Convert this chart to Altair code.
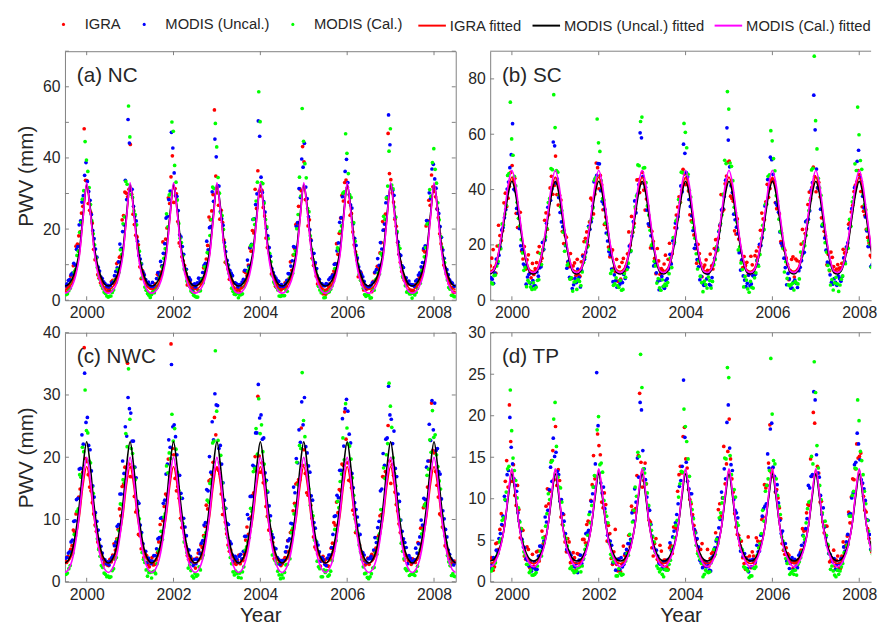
import altair as alt
import pandas as pd

FONT = "Liberation Sans"
TEXT = "#262626"
BOX = "#808080"

POINT_SERIES = ["IGRA", "MODIS (Uncal.)", "MODIS (Cal.)"]
POINT_COLORS = ["#ff0000", "#0000ff", "#00ff00"]
FIT_SERIES = ["IGRA fitted", "MODIS (Uncal.) fitted", "MODIS (Cal.) fitted"]
FIT_COLORS = ["#ff0000", "#000000", "#ff00ff"]

X_TICKS = [2000, 2002, 2004, 2006, 2008]
FIT_YEARS = list(range(2000, 2010))

# ---------------- (a) NC ----------------
nc_igra = [
    [2.4, 3.1, 6.8, 9.7, 15.2, 18.1, 24.5, 48.2, 33.6, 25.3, 21.7, 11.4, 7.2, 4.9, 3.6, 2.2],
    [3.8, 5.2, 4.7, 10.3, 12.1, 22.6, 30.4, 29.1, 43.8, 24.2, 18.3, 15.6, 6.1, 7.4, 2.8, 1.9],
    [2.1, 4.6, 7.3, 7.9, 16.4, 17.2, 28.8, 34.7, 27.5, 29.9, 16.1, 12.2, 9.8, 4.3, 5.1, 3.7],
    [4.2, 2.8, 5.5, 9.1, 11.6, 23.4, 25.1, 53.5, 30.2, 22.8, 21.9, 10.7, 8.8, 6.7, 3.2, 2.6],
    [2.9, 3.5, 8.1, 6.9, 14.7, 19.6, 31.2, 36.4, 29.3, 26.1, 17.5, 14.9, 7.4, 5.2, 4.8, 3.4],
    [3.3, 4.9, 5.1, 10.8, 12.7, 21.3, 26.4, 30.8, 38.9, 28.4, 22.6, 11.8, 10.1, 4.6, 3.9, 1.8],
    [1.7, 3.9, 6.4, 8.2, 15.9, 18.8, 29.5, 33.1, 31.7, 23.9, 19.2, 13.6, 6.6, 7.8, 2.9, 3.1],
    [3.6, 2.4, 7.7, 9.5, 13.3, 22.1, 24.2, 46.9, 33.9, 27.6, 20.8, 12.9, 8.1, 5.6, 4.4, 2.7],
    [2.5, 4.3, 5.8, 7.6, 14.1, 20.9, 28.1, 35.2, 30.6, 25.7, 18.7, 14.3, 9.2, 6.3, 3.5, 2.3],
]
nc_igra_b = [
    [3.9, 4.2, 7.4, 8.1, 15.8, 19.2, 26.4, 33.7, 27.2, 24.6, 14.3, 11.9, 6.2, 4.1, 2.9, 2.4],
    [2.7, 5.6, 5.9, 10.7, 12.4, 23.8, 30.1, 31.2, 29.8, 21.3, 17.8, 9.4, 8.3, 5.7, 4.1, 3.5],
    [3.1, 3.8, 6.9, 9.6, 13.1, 20.3, 27.2, 40.6, 31.4, 22.1, 15.2, 11.1, 7.6, 4.8, 3.3, 2.1],
    [4.4, 4.7, 5.3, 7.9, 15.4, 22.6, 29.7, 34.9, 26.7, 25.3, 16.9, 10.2, 5.9, 5.4, 2.6, 3.8],
    [2.3, 5.1, 7.8, 9.9, 13.8, 18.9, 25.8, 30.6, 30.9, 23.7, 14.8, 12.3, 7.7, 3.9, 4.3, 2.9],
    [3.6, 3.9, 6.1, 8.4, 14.6, 21.7, 31.3, 43.2, 28.3, 20.9, 17.1, 9.8, 6.8, 5.1, 3.1, 2.5],
    [2.9, 4.6, 7.2, 10.3, 12.9, 23.1, 27.9, 33.8, 27.6, 24.4, 15.6, 11.4, 8.1, 4.4, 3.7, 3.3],
    [4.1, 5.3, 5.6, 8.8, 16.2, 19.8, 28.6, 35.6, 30.2, 22.8, 16.3, 10.7, 6.4, 5.6, 2.8, 2.7],
    [2.6, 4.4, 6.7, 9.2, 13.6, 22.4, 26.7, 31.9, 29.1, 23.2, 15.9, 9.9, 7.3, 4.7, 3.4, 2.2],
]
nc_uncal = [
    [4.1, 5.6, 7.2, 10.4, 14.3, 21.2, 27.6, 35.1, 33.4, 28.1, 19.6, 14.4, 9.3, 6.5, 5.2, 3.7],
    [3.2, 4.8, 6.9, 9.1, 15.8, 19.3, 33.7, 50.8, 30.9, 26.4, 22.3, 12.6, 10.2, 7.1, 4.4, 4.3],
    [5.0, 3.9, 7.8, 10.9, 13.2, 23.1, 28.3, 47.2, 35.8, 29.2, 18.4, 15.1, 8.6, 5.9, 5.7, 3.1],
    [3.6, 6.2, 6.1, 9.8, 16.6, 20.4, 30.5, 45.3, 32.2, 24.9, 21.1, 13.7, 9.9, 7.6, 4.9, 4.6],
    [4.4, 5.1, 8.4, 11.3, 14.8, 22.7, 26.9, 50.4, 34.6, 27.7, 20.2, 14.8, 8.9, 6.8, 5.5, 3.9],
    [3.9, 4.6, 7.5, 9.6, 15.1, 20.8, 31.4, 39.7, 44.1, 28.6, 19.8, 13.1, 10.6, 6.2, 4.7, 4.1],
    [4.7, 5.8, 6.6, 10.1, 13.9, 21.9, 29.1, 36.2, 33.1, 26.8, 21.5, 15.4, 9.4, 7.3, 5.3, 3.4],
    [3.8, 4.9, 7.9, 11.7, 16.2, 19.7, 27.4, 52.1, 31.6, 29.5, 18.9, 12.9, 9.7, 6.1, 4.8, 4.5],
    [4.3, 5.4, 7.1, 9.4, 14.6, 22.4, 30.2, 36.9, 34.1, 25.6, 20.7, 14.1, 8.8, 7.2, 5.1, 3.8],
]
nc_uncal_b = [
    [4.6, 5.8, 7.6, 9.9, 15.1, 22.3, 29.4, 38.7, 30.6, 24.1, 17.3, 12.1, 8.2, 6.1, 4.7, 4.2],
    [4.1, 5.2, 8.1, 10.8, 14.6, 21.2, 28.3, 44.2, 31.2, 23.7, 16.6, 11.6, 7.9, 5.8, 5.1, 3.9],
    [3.7, 6.1, 7.2, 9.7, 15.9, 23.6, 30.7, 42.8, 29.4, 25.2, 17.8, 12.9, 8.7, 6.4, 4.4, 4.6],
    [4.9, 5.4, 7.8, 10.4, 14.2, 20.7, 27.8, 40.3, 32.1, 22.9, 16.2, 11.2, 8.4, 6.9, 4.9, 3.6],
    [4.3, 5.9, 8.3, 9.5, 15.7, 22.9, 29.9, 46.1, 30.3, 24.8, 18.1, 12.4, 7.8, 6.2, 5.3, 4.4],
    [3.8, 5.6, 7.4, 11.1, 14.9, 21.8, 28.9, 37.4, 31.8, 23.5, 16.8, 13.2, 8.9, 5.9, 4.6, 4.1],
    [4.5, 6.3, 7.1, 10.2, 16.1, 23.2, 30.2, 39.6, 29.7, 25.9, 17.4, 11.9, 8.1, 6.6, 4.2, 3.8],
    [4.2, 5.1, 8.6, 9.8, 14.4, 21.4, 29.1, 43.7, 30.9, 23.3, 16.4, 12.6, 9.2, 6.3, 5.4, 4.3],
    [3.9, 5.7, 7.7, 10.6, 15.3, 22.1, 28.6, 38.2, 31.5, 24.4, 17.7, 11.8, 8.6, 5.7, 4.8, 4.0],
]
nc_cal = [
    [1.6, 2.7, 4.8, 7.9, 12.6, 19.1, 28.4, 44.6, 36.2, 26.9, 18.7, 11.9, 7.1, 4.2, 2.3, 1.2],
    [1.1, 2.2, 5.6, 8.7, 14.2, 21.5, 33.4, 54.6, 29.7, 25.1, 21.2, 13.8, 6.4, 3.7, 1.9, 0.8],
    [2.4, 3.1, 4.3, 7.2, 11.8, 24.3, 29.6, 50.1, 37.9, 28.2, 17.4, 12.5, 8.4, 4.9, 2.6, 1.4],
    [0.9, 2.6, 5.9, 9.4, 13.4, 18.2, 31.8, 49.7, 34.5, 24.6, 19.9, 10.8, 7.6, 3.4, 1.7, 1.9],
    [1.5, 1.8, 4.6, 8.1, 15.3, 22.8, 27.9, 58.6, 33.1, 27.3, 20.6, 13.2, 6.9, 4.5, 2.9, 1.1],
    [1.3, 2.9, 5.2, 6.8, 12.9, 20.1, 34.6, 53.9, 38.4, 25.8, 18.1, 11.4, 8.2, 3.9, 2.1, 0.7],
    [2.1, 2.4, 4.1, 8.9, 14.7, 19.4, 30.1, 46.8, 35.6, 28.9, 21.8, 12.7, 7.3, 5.1, 1.6, 1.5],
    [0.6, 3.3, 5.7, 7.6, 13.1, 23.6, 28.8, 41.9, 32.4, 26.2, 19.3, 14.6, 6.7, 4.1, 2.5, 1.8],
    [1.9, 2.2, 4.9, 8.3, 12.2, 21.4, 31.1, 38.7, 36.8, 27.4, 17.9, 11.6, 7.8, 3.6, 1.4, 1.0],
]
nc_cal_b = [
    [1.8, 3.4, 5.8, 8.7, 13.8, 21.9, 30.8, 39.4, 31.7, 22.3, 15.6, 9.2, 5.8, 3.3, 1.9, 0.9],
    [1.2, 2.9, 5.1, 7.9, 12.9, 23.4, 32.6, 45.9, 28.9, 24.1, 14.7, 10.4, 6.3, 2.8, 1.4, 1.6],
    [2.1, 3.6, 6.2, 9.3, 14.5, 20.6, 29.9, 47.5, 33.2, 21.6, 16.2, 8.8, 5.4, 3.9, 2.2, 1.1],
    [0.9, 2.7, 4.9, 8.4, 13.2, 22.7, 31.4, 43.1, 30.1, 23.8, 15.1, 9.9, 6.6, 2.5, 1.6, 0.7],
    [1.6, 3.8, 5.5, 9.1, 15.6, 21.3, 33.2, 50.2, 32.8, 22.7, 17.3, 10.8, 5.1, 3.6, 1.2, 1.3],
    [1.3, 2.5, 6.4, 7.6, 13.9, 24.1, 29.3, 44.7, 34.4, 24.9, 14.3, 9.6, 6.9, 2.9, 2.4, 0.8],
    [2.2, 3.1, 5.3, 8.9, 14.1, 20.9, 30.5, 41.3, 29.6, 21.9, 16.6, 10.1, 5.6, 3.4, 1.1, 1.4],
    [0.7, 2.8, 6.1, 7.4, 12.6, 22.8, 32.1, 48.2, 31.3, 23.4, 15.4, 9.3, 6.2, 2.3, 1.8, 0.6],
    [1.5, 3.3, 4.8, 8.2, 14.8, 21.6, 29.2, 42.6, 32.9, 22.6, 14.9, 10.6, 5.7, 3.1, 1.3, 1.0],
]
nc_fit_igra = [3, 3.5, 5, 8, 13, 23, 32, 25, 15, 9, 5.5, 3.5]
nc_fit_uncal = [4, 4.5, 6, 9, 14, 24, 32.5, 26, 16, 10, 6.5, 4.5]
nc_fit_cal = [2, 2.5, 4, 7, 12.5, 23, 33, 25, 14.5, 8, 4.5, 2.5]
nc_yticks = [0, 10, 20, 30, 40, 50, 60, 70]

# ---------------- (b) SC ----------------
sc_igra = [
    [12.4, 18.3, 9.8, 27.1, 21.6, 35.2, 33.9, 41.2, 48.7, 44.1, 26.3, 31.8, 14.9, 11.2, 16.4, 8.1],
    [9.3, 13.6, 19.4, 15.2, 28.9, 25.7, 40.6, 38.3, 52.1, 34.4, 36.2, 20.5, 22.8, 12.1, 7.9, 13.5],
    [14.8, 8.7, 16.3, 22.4, 19.8, 36.9, 31.2, 49.6, 40.3, 41.7, 27.4, 26.1, 15.7, 18.2, 10.3, 6.9],
    [7.6, 15.1, 12.2, 24.7, 30.3, 27.8, 43.5, 38.9, 46.2, 32.6, 34.1, 18.9, 21.3, 9.6, 14.2, 11.4],
    [13.1, 10.4, 20.6, 16.8, 26.2, 33.7, 35.4, 47.3, 41.8, 39.5, 28.7, 23.6, 13.4, 16.9, 8.5, 12.7],
    [10.8, 16.7, 11.3, 21.9, 22.4, 38.2, 32.8, 44.9, 50.3, 36.8, 25.1, 29.4, 17.6, 11.8, 12.6, 9.2],
    [15.9, 9.1, 17.8, 19.3, 31.5, 29.1, 41.9, 40.4, 43.7, 35.3, 33.2, 21.2, 19.1, 15.3, 7.4, 14.8],
    [8.4, 14.3, 13.9, 25.6, 24.1, 34.6, 36.7, 48.1, 39.2, 42.6, 29.8, 24.9, 12.8, 10.7, 15.5, 10.1],
    [12.9, 11.7, 18.4, 17.3, 27.5, 31.9, 39.3, 42.8, 45.4, 33.8, 30.7, 22.7, 16.2, 13.6, 9.8, 24.5],
]
sc_igra_b = [
    [15.2, 11.8, 19.6, 23.4, 25.1, 38.7, 36.9, 46.2, 43.3, 31.4, 29.6, 17.8, 19.4, 14.6, 9.7, 13.3],
    [11.4, 17.3, 14.1, 18.2, 31.6, 30.9, 44.8, 41.5, 38.2, 37.9, 24.8, 23.6, 13.8, 16.9, 12.4, 8.9],
    [9.1, 13.9, 21.2, 24.7, 28.3, 36.2, 38.4, 47.9, 45.1, 32.7, 30.1, 19.2, 17.3, 11.6, 14.8, 12.1],
    [13.7, 10.6, 16.8, 19.9, 24.6, 33.1, 43.6, 42.3, 39.8, 36.6, 26.7, 24.9, 15.1, 18.7, 9.4, 10.8],
    [16.3, 14.8, 13.5, 22.6, 30.8, 37.4, 39.7, 45.6, 43.9, 30.9, 28.4, 18.6, 20.2, 13.2, 11.9, 14.6],
    [10.2, 12.4, 18.7, 17.9, 26.9, 32.2, 42.1, 49.8, 37.6, 35.8, 23.9, 22.1, 14.4, 15.8, 13.7, 9.6],
    [12.8, 16.1, 15.4, 25.3, 29.4, 35.6, 37.2, 43.4, 42.7, 33.1, 31.2, 19.8, 18.1, 12.9, 10.6, 15.7],
    [14.9, 11.2, 20.3, 21.1, 25.8, 39.1, 40.8, 44.7, 40.6, 37.4, 27.3, 23.2, 16.6, 17.4, 12.2, 11.3],
    [11.6, 13.3, 17.1, 19.4, 28.1, 34.3, 41.6, 46.9, 39.3, 32.2, 25.6, 20.7, 15.5, 14.1, 13.1, 10.4],
]
sc_uncal = [
    [8.2, 6.1, 14.9, 16.3, 25.4, 29.8, 40.2, 47.9, 63.8, 39.6, 31.4, 19.7, 13.1, 5.8, 9.4, 4.7],
    [5.4, 10.2, 11.7, 20.9, 21.8, 33.6, 36.1, 57.2, 42.4, 37.1, 28.3, 25.2, 11.6, 8.3, 4.2, 7.9],
    [11.3, 4.8, 15.8, 17.4, 26.7, 28.4, 42.8, 45.1, 49.3, 35.7, 32.9, 21.4, 16.4, 6.7, 7.1, 5.1],
    [6.9, 9.3, 12.5, 19.6, 23.2, 35.9, 38.4, 60.5, 44.7, 40.8, 27.6, 23.3, 12.4, 9.9, 3.8, 8.6],
    [4.3, 7.8, 16.6, 21.5, 27.9, 30.2, 41.3, 56.4, 46.1, 36.4, 30.5, 18.8, 14.7, 7.4, 6.3, 5.5],
    [9.6, 5.2, 13.2, 18.1, 24.8, 32.7, 37.5, 62.3, 48.2, 38.9, 29.1, 24.1, 10.9, 8.8, 4.9, 9.1],
    [5.9, 8.6, 14.4, 20.2, 22.6, 34.1, 43.6, 51.7, 45.5, 35.2, 31.8, 20.6, 15.2, 5.6, 7.7, 4.4],
    [7.3, 4.6, 11.9, 16.9, 28.4, 29.3, 39.8, 74.1, 47.4, 39.9, 26.8, 22.5, 13.8, 9.2, 5.8, 6.5],
    [8.8, 6.9, 15.3, 19.2, 25.9, 33.1, 40.7, 50.2, 44.3, 37.6, 30.1, 19.4, 12.2, 7.1, 6.1, 8.2],
]
sc_uncal_b = [
    [7.6, 9.8, 13.4, 19.1, 26.3, 32.8, 42.7, 52.6, 40.1, 33.2, 25.9, 18.3, 12.6, 8.4, 6.2, 7.1],
    [5.1, 8.7, 12.1, 18.4, 27.8, 35.1, 40.3, 55.8, 43.8, 31.7, 26.6, 19.7, 14.1, 7.9, 5.6, 6.4],
    [8.3, 10.6, 14.8, 21.2, 25.7, 33.9, 44.1, 49.4, 39.6, 34.8, 24.3, 17.6, 11.3, 9.2, 4.7, 5.8],
    [6.4, 7.9, 11.8, 17.6, 28.4, 31.6, 41.8, 58.7, 42.2, 32.6, 27.1, 18.9, 13.7, 6.8, 7.3, 4.9],
    [7.2, 11.3, 13.1, 20.4, 26.1, 36.4, 39.2, 53.1, 44.6, 33.9, 25.2, 20.1, 12.1, 8.6, 5.4, 7.7],
    [5.7, 8.2, 15.2, 18.9, 27.3, 33.2, 43.4, 57.9, 41.4, 31.1, 26.4, 17.2, 14.6, 7.3, 6.1, 5.2],
    [8.9, 9.4, 12.7, 19.8, 25.4, 34.7, 40.9, 50.8, 43.1, 34.3, 24.7, 19.3, 11.8, 9.7, 4.4, 6.6],
    [6.1, 10.7, 14.3, 17.3, 28.9, 32.3, 42.5, 61.6, 40.7, 32.9, 27.6, 18.1, 13.2, 6.5, 7.8, 5.4],
    [7.8, 8.6, 13.9, 20.7, 26.8, 35.4, 41.1, 54.2, 42.9, 33.4, 25.1, 19.5, 12.9, 8.1, 5.9, 6.9],
]
sc_cal = [
    [6.3, 8.9, 12.4, 19.8, 27.6, 31.2, 45.1, 71.6, 52.4, 41.3, 29.6, 21.9, 10.8, 4.9, 6.4, 3.9],
    [4.1, 7.2, 16.9, 18.4, 22.9, 35.3, 47.6, 74.3, 46.9, 38.2, 32.4, 17.7, 12.7, 7.6, 3.3, 6.8],
    [7.5, 5.3, 13.6, 21.1, 26.3, 29.6, 43.4, 65.5, 53.8, 36.7, 27.9, 23.8, 9.7, 5.4, 8.1, 4.6],
    [3.6, 9.7, 11.1, 17.7, 24.6, 33.8, 48.9, 64.6, 47.8, 42.5, 30.8, 19.9, 14.1, 6.2, 4.5, 7.4],
    [5.8, 6.4, 15.2, 22.6, 28.7, 36.4, 46.3, 63.9, 55.1, 39.7, 28.2, 22.4, 11.3, 8.7, 3.1, 5.7],
    [8.4, 4.4, 12.8, 19.4, 25.3, 30.9, 50.6, 75.4, 49.6, 43.2, 31.6, 18.2, 13.5, 4.8, 7.3, 2.9],
    [4.6, 8.1, 14.3, 16.5, 27.1, 34.7, 44.8, 61.3, 51.2, 37.8, 29.3, 24.3, 10.2, 7.9, 5.2, 6.1],
    [6.7, 5.9, 17.4, 20.7, 23.5, 32.4, 47.1, 88.2, 54.7, 40.6, 27.4, 20.8, 12.6, 5.5, 3.7, 8.3],
    [3.2, 7.6, 13.7, 18.6, 29.2, 35.6, 49.3, 69.8, 50.5, 38.4, 32.7, 21.6, 11.9, 6.8, 4.4, 5.3],
]
sc_cal_b = [
    [5.9, 9.1, 14.1, 18.6, 27.2, 34.3, 45.8, 58.3, 44.8, 35.4, 26.9, 17.1, 11.9, 7.2, 4.8, 6.3],
    [4.7, 7.4, 12.9, 21.8, 25.9, 36.8, 47.2, 62.4, 46.3, 33.8, 24.6, 19.9, 13.3, 8.1, 6.6, 3.9],
    [6.8, 10.2, 15.6, 19.3, 28.6, 33.4, 44.3, 56.9, 43.2, 36.2, 27.8, 18.4, 10.7, 5.9, 5.3, 7.2],
    [3.9, 8.3, 13.4, 17.9, 26.4, 37.7, 48.6, 66.2, 47.9, 34.1, 25.3, 20.6, 12.4, 7.8, 3.6, 5.1],
    [5.3, 9.6, 11.8, 20.9, 29.3, 35.2, 46.1, 60.7, 45.5, 37.3, 26.2, 16.8, 14.2, 6.4, 6.9, 4.4],
    [7.1, 6.8, 14.7, 18.2, 27.7, 38.4, 49.4, 69.1, 48.4, 33.6, 28.3, 19.3, 11.1, 8.6, 4.1, 6.8],
    [4.4, 9.9, 12.3, 22.3, 25.6, 34.8, 45.3, 57.6, 46.8, 35.9, 24.9, 18.7, 13.9, 5.6, 5.7, 3.7],
    [6.2, 7.7, 16.1, 19.7, 28.2, 36.1, 47.7, 64.9, 44.1, 37.9, 27.2, 17.4, 10.9, 7.5, 6.3, 5.9],
    [5.5, 8.8, 13.2, 18.8, 26.7, 37.2, 46.9, 59.8, 47.3, 34.6, 25.7, 20.2, 12.7, 6.9, 4.9, 4.6],
]
sc_fit_igra = [10.5, 11.5, 15.5, 22, 31, 40, 44.5, 40, 31, 21.5, 14.5, 11]
sc_fit_uncal = [9.5, 10.5, 14.5, 21, 30, 38.5, 43, 38.5, 29.5, 20.5, 13.5, 10]
sc_fit_cal = [10, 11, 15, 22.5, 32, 42, 47, 42, 32, 22, 14.5, 10.5]
sc_yticks = [0, 20, 40, 60, 80]

# ---------------- (c) NWC ----------------
nwc_igra = [
    [3.4, 4.1, 5.2, 8.3, 10.9, 13.6, 16.8, 37.6, 19.3, 15.2, 12.7, 9.1, 6.4, 4.8, 2.7, 3.1],
    [2.6, 3.2, 6.1, 6.9, 11.7, 15.3, 18.4, 35.1, 16.9, 16.8, 11.2, 7.6, 5.3, 3.9, 4.2, 2.4],
    [3.9, 2.8, 4.7, 9.2, 9.8, 14.1, 19.7, 38.2, 20.4, 14.6, 13.4, 8.7, 7.1, 4.2, 3.3, 3.6],
    [2.2, 4.6, 5.9, 7.4, 12.3, 16.2, 17.3, 26.4, 18.2, 17.4, 10.8, 9.6, 5.9, 5.1, 2.9, 2.8],
    [4.3, 3.5, 4.4, 8.8, 10.2, 13.9, 20.1, 29.8, 17.6, 15.9, 12.1, 8.3, 6.8, 3.7, 3.8, 3.2],
    [2.9, 3.9, 6.6, 7.9, 11.4, 15.7, 16.4, 24.7, 21.2, 14.3, 13.8, 10.2, 5.6, 4.5, 2.5, 4.1],
    [3.6, 2.5, 5.4, 9.5, 12.8, 14.8, 18.9, 27.3, 19.1, 16.2, 11.5, 7.9, 7.4, 4.9, 3.4, 2.9],
    [2.8, 4.4, 4.9, 7.1, 10.6, 16.9, 17.7, 25.1, 15.8, 17.1, 12.4, 9.3, 6.2, 3.5, 4.1, 3.3],
    [3.7, 3.1, 6.3, 8.6, 11.9, 13.2, 19.4, 28.7, 20.7, 15.5, 10.9, 8.8, 5.8, 4.6, 2.6, 2.9],
]
nwc_igra_b = [
    [3.1, 3.9, 5.8, 7.9, 11.3, 14.9, 17.6, 19.8, 17.2, 14.6, 10.9, 8.1, 5.4, 3.8, 3.2, 2.7],
    [3.6, 4.3, 5.1, 8.4, 10.6, 15.7, 18.3, 18.9, 18.4, 13.7, 11.6, 7.4, 6.1, 4.5, 2.8, 3.4],
    [2.7, 3.5, 6.4, 7.2, 12.1, 13.8, 16.9, 21.4, 16.6, 15.3, 10.2, 8.8, 5.7, 3.6, 3.7, 2.9],
    [3.8, 4.7, 5.5, 8.9, 11.7, 16.4, 19.2, 23.6, 17.9, 14.1, 11.9, 7.7, 4.9, 4.2, 3.1, 3.5],
    [2.9, 3.4, 6.7, 7.6, 10.4, 14.3, 17.8, 20.2, 19.1, 15.8, 10.5, 8.4, 6.3, 3.4, 2.9, 2.6],
    [3.5, 4.8, 4.9, 8.2, 12.6, 15.9, 16.4, 18.7, 17.4, 13.9, 12.3, 7.2, 5.2, 4.7, 3.6, 3.2],
    [2.6, 3.7, 6.2, 9.1, 11.1, 14.6, 18.7, 22.9, 16.3, 15.1, 10.8, 8.9, 5.9, 3.9, 2.7, 3.8],
    [3.9, 4.1, 5.4, 7.4, 10.8, 16.8, 17.3, 19.4, 18.8, 14.4, 11.4, 7.9, 6.6, 4.3, 3.4, 2.8],
    [3.2, 3.6, 6.1, 8.6, 12.4, 15.2, 19.4, 21.1, 17.7, 13.6, 10.7, 8.6, 5.5, 3.7, 3.1, 3.3],
]
nwc_uncal = [
    [3.8, 4.6, 6.4, 9.7, 13.2, 18.1, 23.6, 33.5, 26.4, 21.2, 15.4, 11.1, 8.3, 5.7, 3.6, 2.9],
    [2.7, 3.9, 5.8, 8.9, 14.1, 19.4, 24.9, 29.6, 27.1, 22.6, 16.7, 12.6, 7.9, 4.8, 3.1, 3.4],
    [3.3, 4.2, 6.9, 10.2, 12.6, 17.3, 22.8, 34.9, 25.2, 20.4, 17.1, 13.4, 8.8, 5.2, 4.1, 2.6],
    [2.9, 5.1, 6.2, 9.1, 14.8, 20.1, 25.7, 30.2, 28.3, 21.9, 15.9, 11.8, 9.2, 6.1, 3.4, 3.7],
    [4.1, 3.7, 7.3, 10.8, 13.7, 18.7, 23.9, 31.7, 26.8, 23.1, 16.3, 12.2, 7.6, 5.4, 3.9, 2.8],
    [3.2, 4.8, 6.6, 9.4, 15.2, 19.8, 24.4, 28.9, 29.6, 20.7, 17.6, 13.1, 8.6, 5.9, 3.3, 3.5],
    [2.6, 4.3, 5.5, 10.5, 13.9, 17.9, 26.2, 27.8, 27.4, 22.3, 15.1, 11.6, 9.1, 4.6, 4.3, 3.1],
    [3.7, 3.6, 7.1, 8.7, 14.6, 20.6, 22.9, 31.4, 26.1, 24.2, 16.9, 12.9, 8.1, 6.3, 2.9, 3.8],
    [3.1, 5.4, 6.1, 9.9, 13.4, 18.4, 25.3, 29.1, 28.7, 21.4, 17.3, 11.4, 8.4, 5.1, 3.7, 2.7],
]
nwc_uncal_b = [
    [3.9, 4.8, 6.7, 9.8, 13.4, 18.2, 22.1, 25.6, 21.9, 17.8, 13.6, 9.7, 6.8, 4.6, 3.5, 3.2],
    [3.3, 4.1, 6.4, 9.2, 14.1, 17.4, 23.4, 27.8, 22.6, 18.4, 12.9, 9.1, 6.1, 4.9, 3.8, 2.9],
    [4.2, 5.3, 7.1, 10.3, 13.1, 18.9, 21.6, 24.9, 23.3, 17.1, 14.2, 10.2, 7.4, 5.1, 3.2, 3.6],
    [3.6, 4.5, 6.6, 9.5, 14.6, 17.6, 22.8, 28.4, 21.4, 18.9, 13.1, 9.4, 6.5, 4.3, 4.1, 3.1],
    [4.4, 4.9, 7.3, 10.1, 13.7, 18.5, 23.9, 26.3, 22.9, 17.5, 14.4, 10.6, 7.1, 5.3, 3.6, 3.4],
    [3.4, 5.6, 6.9, 9.3, 14.3, 19.1, 22.4, 25.2, 21.7, 18.6, 13.8, 9.5, 6.4, 4.8, 3.9, 2.8],
    [3.8, 4.3, 7.6, 10.6, 13.5, 17.9, 21.8, 29.3, 23.7, 17.4, 12.7, 10.4, 7.6, 4.7, 3.3, 3.7],
    [4.1, 5.1, 6.3, 9.7, 14.9, 18.7, 23.1, 26.8, 22.2, 18.2, 14.1, 9.9, 6.9, 5.5, 4.2, 3.3],
    [3.5, 4.6, 7.2, 9.1, 13.2, 19.4, 22.7, 24.4, 21.1, 17.7, 13.3, 10.1, 7.2, 4.4, 3.4, 3.0],
]
nwc_cal = [
    [1.2, 2.1, 4.4, 7.6, 11.3, 17.2, 21.6, 30.8, 23.9, 19.1, 14.2, 8.9, 5.2, 2.6, 1.4, 0.8],
    [0.7, 1.8, 3.6, 6.8, 12.5, 16.4, 23.8, 34.2, 21.4, 18.3, 12.8, 10.1, 4.7, 3.1, 0.9, 1.5],
    [1.6, 1.3, 4.9, 8.1, 10.4, 18.6, 20.7, 26.9, 24.6, 17.6, 13.5, 9.4, 6.1, 2.2, 1.8, 0.6],
    [0.9, 2.4, 3.8, 7.2, 13.1, 15.8, 22.3, 37.1, 22.7, 20.3, 11.9, 8.5, 5.5, 2.9, 1.1, 1.3],
    [1.4, 1.6, 5.1, 6.4, 11.8, 17.7, 24.6, 29.4, 25.2, 18.9, 14.6, 9.8, 4.3, 3.4, 1.7, 0.5],
    [0.6, 2.7, 4.1, 7.9, 10.9, 19.2, 21.9, 33.6, 23.3, 16.9, 12.3, 10.6, 6.6, 2.4, 0.8, 1.9],
    [1.8, 1.1, 3.4, 8.4, 12.9, 16.1, 23.1, 28.6, 22.1, 19.7, 13.9, 8.2, 5.9, 3.6, 1.3, 0.7],
    [0.8, 2.2, 4.6, 6.9, 11.6, 18.3, 20.4, 31.9, 24.8, 17.4, 12.6, 9.9, 4.9, 2.1, 1.9, 1.2],
    [1.3, 1.7, 3.9, 7.7, 12.2, 17.1, 22.8, 27.5, 23.6, 18.5, 14.9, 8.7, 6.3, 3.2, 1.0, 0.9],
]
nwc_cal_b = [
    [1.4, 2.6, 4.6, 7.4, 11.7, 16.8, 20.9, 24.3, 19.4, 15.2, 10.7, 6.9, 4.1, 2.3, 1.2, 0.9],
    [0.8, 2.1, 3.9, 8.2, 12.4, 15.9, 21.7, 26.1, 20.6, 16.4, 11.4, 7.6, 3.6, 1.9, 1.5, 0.6],
    [1.7, 2.9, 5.2, 6.8, 10.9, 17.5, 19.8, 22.6, 21.3, 14.7, 9.9, 6.4, 4.7, 2.7, 0.9, 1.3],
    [1.1, 1.9, 4.3, 7.9, 12.8, 16.3, 22.6, 27.4, 19.1, 15.9, 11.8, 7.1, 3.9, 1.6, 1.7, 0.7],
    [0.6, 2.4, 5.6, 7.1, 11.3, 18.2, 20.5, 23.8, 20.9, 16.1, 10.4, 8.1, 4.4, 2.9, 1.1, 1.1],
    [1.5, 2.8, 3.7, 8.6, 12.2, 15.6, 21.4, 25.9, 18.8, 14.9, 11.2, 6.7, 3.3, 2.1, 0.8, 1.5],
    [0.9, 1.7, 4.9, 6.6, 11.9, 17.3, 19.6, 24.7, 21.8, 16.7, 10.1, 7.8, 4.8, 2.4, 1.4, 0.5],
    [1.3, 2.3, 4.4, 7.7, 10.6, 16.6, 22.2, 28.2, 19.9, 15.4, 11.6, 6.2, 3.7, 1.8, 1.0, 1.2],
    [1.0, 2.5, 5.1, 8.3, 12.6, 18.1, 20.8, 23.2, 20.4, 16.2, 10.6, 7.4, 4.2, 2.6, 1.3, 0.8],
]
nwc_fit_igra = [3, 3.3, 4.5, 7, 10.5, 15.5, 18.5, 15.5, 10.5, 7, 4.5, 3.3]
nwc_fit_uncal = [3, 3.5, 5, 8, 12.5, 18.5, 22.5, 18.5, 12.5, 8, 5, 3.5]
nwc_fit_cal = [1.5, 2, 3.5, 6.5, 11, 16.5, 20, 16.5, 11, 6.5, 3.5, 2]
nwc_yticks = [0, 10, 20, 30, 40]

# ---------------- (d) TP ----------------
tp_igra = [
    [2.8, 1.4, 4.6, 3.9, 8.2, 7.7, 14.6, 21.3, 12.1, 10.4, 11.6, 5.3, 6.2, 2.7, 3.9, 1.6],
    [1.9, 3.6, 2.5, 6.1, 5.4, 11.2, 10.9, 15.8, 18.7, 13.5, 7.8, 8.1, 3.6, 4.8, 1.8, 2.9],
    [3.4, 2.2, 5.1, 4.7, 7.3, 9.8, 15.2, 12.6, 16.4, 9.6, 10.7, 4.9, 5.8, 2.1, 6.3, 1.3],
    [1.2, 4.3, 2.9, 5.6, 9.1, 8.4, 12.8, 22.7, 11.4, 14.3, 8.9, 7.2, 3.1, 5.2, 2.4, 3.7],
    [2.6, 1.8, 4.1, 3.4, 6.6, 10.9, 13.9, 17.5, 14.8, 11.1, 9.4, 6.8, 5.1, 3.3, 4.6, 2.2],
    [3.9, 2.8, 3.6, 5.9, 8.7, 7.9, 16.3, 14.2, 19.6, 12.4, 8.2, 5.7, 4.4, 2.9, 1.5, 5.4],
    [1.7, 3.1, 5.3, 4.2, 7.5, 11.7, 11.6, 18.9, 13.7, 10.8, 10.1, 7.6, 3.8, 4.1, 3.2, 2.6],
    [2.3, 2.4, 3.2, 6.4, 6.2, 9.3, 14.8, 20.4, 12.9, 13.1, 9.7, 5.9, 6.7, 2.4, 2.8, 1.9],
    [3.1, 1.6, 4.8, 4.4, 8.4, 10.2, 12.3, 16.6, 15.1, 11.8, 8.6, 6.4, 4.7, 3.6, 2.1, 3.3],
]
tp_igra_b = [
    [2.9, 1.8, 4.7, 6.3, 6.8, 12.1, 11.4, 16.9, 14.1, 9.2, 8.7, 6.4, 3.1, 4.2, 1.7, 3.3],
    [1.6, 3.7, 3.2, 4.6, 9.1, 9.4, 14.6, 12.3, 11.6, 12.2, 6.9, 4.8, 5.2, 2.3, 3.5, 1.4],
    [3.3, 2.4, 5.1, 6.9, 7.2, 11.7, 12.4, 17.8, 15.3, 8.9, 9.3, 6.8, 2.8, 3.6, 2.1, 2.8],
    [2.1, 3.2, 3.6, 4.2, 8.6, 8.8, 15.2, 14.4, 12.2, 11.8, 7.4, 4.1, 4.6, 2.7, 4.4, 1.9],
    [2.6, 1.5, 4.4, 6.6, 6.4, 12.9, 13.1, 18.6, 13.7, 9.9, 8.1, 6.1, 3.7, 3.9, 1.8, 2.4],
    [1.9, 3.4, 3.1, 5.1, 9.4, 10.1, 11.8, 15.7, 14.8, 10.8, 6.6, 5.6, 4.9, 2.2, 2.9, 3.1],
    [3.6, 2.2, 4.9, 4.8, 7.8, 11.3, 14.3, 13.2, 12.6, 11.1, 8.9, 4.6, 3.3, 3.4, 2.2, 1.6],
    [2.4, 2.7, 3.8, 6.1, 8.3, 9.2, 12.7, 19.1, 13.9, 9.6, 7.2, 6.7, 4.3, 2.6, 3.8, 2.6],
    [1.7, 3.1, 4.2, 5.5, 7.1, 12.4, 13.6, 14.9, 15.5, 10.3, 8.4, 5.2, 3.6, 3.2, 1.9, 2.2],
]
tp_uncal = [
    [1.6, 2.9, 3.8, 5.2, 6.9, 10.3, 12.9, 19.8, 14.2, 11.6, 8.3, 6.1, 4.2, 2.8, 1.9, 1.3],
    [2.4, 1.5, 4.3, 4.1, 7.8, 8.6, 13.8, 17.3, 15.6, 12.9, 9.9, 7.3, 3.9, 3.5, 2.6, 1.8],
    [1.1, 3.2, 2.7, 5.8, 6.2, 9.7, 11.4, 25.2, 13.1, 10.7, 8.8, 5.6, 4.9, 2.3, 1.4, 2.7],
    [2.9, 2.1, 3.9, 4.6, 8.3, 11.2, 14.9, 21.6, 15.8, 12.3, 9.1, 6.9, 4.1, 3.8, 2.2, 1.6],
    [1.5, 2.6, 4.7, 5.4, 7.1, 9.4, 12.2, 24.3, 14.4, 11.2, 10.6, 6.3, 5.2, 2.6, 1.7, 2.3],
    [2.2, 1.3, 3.1, 4.9, 6.5, 10.8, 13.6, 19.2, 16.1, 13.4, 8.6, 7.7, 3.7, 3.1, 2.8, 1.2],
    [1.8, 2.4, 4.4, 3.7, 7.9, 9.1, 15.4, 18.4, 13.8, 10.9, 9.5, 5.8, 4.6, 2.5, 1.6, 2.9],
    [2.7, 1.7, 3.5, 5.6, 6.4, 11.6, 12.7, 22.9, 15.3, 12.6, 8.1, 6.6, 4.4, 3.3, 2.4, 1.5],
    [1.4, 2.8, 4.2, 4.8, 8.1, 10.1, 14.1, 17.9, 14.7, 11.9, 9.8, 7.4, 3.9, 2.9, 2.1, 1.9],
]
tp_uncal_b = [
    [2.1, 2.6, 3.5, 5.8, 7.9, 9.8, 13.4, 16.2, 12.4, 10.9, 7.3, 5.1, 4.1, 2.6, 2.4, 1.7],
    [1.5, 3.1, 4.3, 4.9, 7.2, 11.1, 12.1, 15.1, 13.3, 9.7, 8.2, 5.8, 3.6, 3.2, 1.9, 2.2],
    [2.6, 2.2, 3.3, 5.9, 8.4, 10.6, 14.2, 18.8, 11.9, 11.4, 7.1, 4.9, 4.4, 2.4, 2.7, 1.5],
    [1.8, 3.4, 4.6, 5.1, 7.3, 9.6, 12.6, 20.7, 13.6, 10.2, 8.6, 5.5, 3.7, 3.1, 2.1, 2.4],
    [2.4, 2.7, 3.8, 6.1, 8.1, 11.5, 13.9, 17.4, 12.1, 10.6, 7.7, 5.9, 4.2, 2.3, 2.5, 1.8],
    [1.4, 2.9, 4.1, 5.3, 7.5, 10.1, 12.4, 21.3, 14.1, 9.9, 8.3, 5.2, 3.9, 3.4, 1.6, 2.6],
    [2.7, 2.4, 3.6, 5.6, 8.8, 9.4, 13.7, 19.1, 12.7, 11.7, 7.4, 6.1, 4.6, 2.7, 2.3, 1.4],
    [1.9, 3.2, 4.4, 4.7, 7.6, 11.3, 12.9, 21.9, 13.1, 10.4, 8.9, 5.4, 3.4, 2.9, 2.8, 2.1],
    [2.2, 2.5, 3.7, 5.7, 8.2, 10.7, 14.4, 16.6, 12.3, 11.2, 7.5, 5.7, 4.3, 2.5, 1.8, 1.9],
]
tp_cal = [
    [1.3, 2.2, 3.1, 4.8, 7.4, 9.9, 13.6, 23.1, 14.9, 12.2, 8.9, 6.4, 3.6, 2.1, 1.1, 0.8],
    [0.9, 1.9, 3.7, 5.3, 6.7, 10.6, 14.4, 19.6, 16.3, 11.4, 9.6, 5.5, 4.3, 1.6, 1.4, 1.2],
    [1.7, 1.2, 2.8, 4.4, 8.1, 9.2, 12.8, 18.3, 14.1, 13.2, 8.4, 7.1, 3.3, 2.4, 0.7, 1.6],
    [0.8, 2.5, 3.4, 5.7, 7.2, 11.4, 15.6, 27.4, 13.6, 11.8, 9.2, 6.2, 4.8, 1.9, 1.2, 0.9],
    [1.5, 1.4, 2.6, 4.2, 6.8, 10.2, 13.3, 20.8, 16.9, 12.7, 8.7, 5.9, 3.4, 2.7, 0.6, 1.4],
    [1.1, 2.3, 3.9, 5.1, 7.7, 9.5, 14.9, 25.8, 15.2, 11.1, 10.2, 6.8, 4.1, 1.8, 1.5, 0.5],
    [0.7, 1.6, 3.2, 4.6, 8.6, 10.9, 12.4, 26.9, 14.6, 12.4, 9.1, 5.4, 3.9, 2.2, 0.9, 1.3],
    [1.4, 2.1, 2.9, 5.5, 7.1, 9.6, 15.1, 26.5, 16.4, 11.6, 8.3, 7.3, 4.5, 1.5, 1.3, 0.6],
    [0.9, 1.8, 3.5, 4.3, 7.9, 10.4, 13.7, 21.9, 15.7, 12.9, 9.4, 6.1, 3.8, 2.6, 1.0, 1.1],
]
tp_cal_b = [
    [1.6, 2.3, 3.4, 5.1, 7.7, 10.8, 13.9, 18.2, 13.4, 10.1, 7.2, 4.8, 3.2, 2.1, 1.4, 0.8],
    [1.1, 2.7, 3.1, 4.7, 8.2, 9.9, 14.6, 21.6, 12.6, 11.3, 6.8, 5.2, 3.7, 1.8, 1.1, 1.3],
    [1.8, 1.9, 3.9, 5.6, 7.1, 11.4, 12.7, 19.9, 14.3, 9.8, 7.9, 4.6, 2.9, 2.4, 0.7, 1.0],
    [0.9, 2.5, 3.2, 4.9, 8.6, 10.3, 15.1, 23.4, 13.1, 10.7, 6.9, 5.4, 3.5, 1.6, 1.5, 0.6],
    [1.4, 2.1, 3.7, 5.3, 7.4, 11.8, 13.2, 18.7, 14.8, 9.6, 7.6, 4.4, 3.1, 2.2, 0.9, 1.2],
    [1.2, 2.8, 3.3, 4.6, 8.3, 10.1, 14.8, 24.6, 12.9, 11.1, 7.1, 5.1, 3.8, 1.7, 1.3, 0.7],
    [1.7, 1.8, 4.1, 5.8, 7.3, 11.6, 13.4, 20.2, 14.2, 10.4, 8.1, 4.9, 2.8, 2.5, 1.1, 0.9],
    [0.8, 2.4, 3.6, 5.1, 8.8, 9.7, 14.2, 22.8, 13.7, 9.9, 6.7, 5.6, 3.4, 1.9, 0.8, 1.4],
    [1.3, 2.2, 3.5, 4.5, 7.9, 10.9, 13.6, 19.4, 14.6, 10.9, 7.4, 4.7, 3.3, 2.3, 1.2, 1.0],
]
tp_fit_igra = [2.2, 2.4, 3.2, 4.5, 6.8, 10.5, 13.5, 10.5, 6.8, 4.5, 3.2, 2.4]
tp_fit_uncal = [2.5, 2.7, 3.4, 4.6, 6.8, 10.2, 13, 10.2, 6.8, 4.7, 3.4, 2.7]
tp_fit_cal = [1.8, 2.1, 3, 4.4, 6.8, 10.6, 13.6, 10.6, 6.8, 4.3, 3, 2.1]
tp_yticks = [0, 5, 10, 15, 20, 25, 30]

PER_YEAR = 16
POINT_OFFSETS = [0.08, 0.25, 0.42]
PLOT_H = 253
LEFT_W = 397
RIGHT_W = 387
X0 = 1999.5
LEFT_XMAX = 2008.5
RIGHT_XMAX = X0 + (LEFT_XMAX - X0) * RIGHT_W / LEFT_W


def points_df(batches):
    rows = []
    for s, name in enumerate(POINT_SERIES):
        for b, series_list in enumerate(batches):
            vals = [v for yr in series_list[s] for v in yr]
            for i, v in enumerate(vals):
                t = X0 + (i + POINT_OFFSETS[s] + 0.5 * b) / PER_YEAR
                rows.append({"t": t, "pwv": v, "series": name})
    return pd.DataFrame(rows)


def fits_df(fit_list):
    rows = []
    for s, name in enumerate(FIT_SERIES):
        for yr in FIT_YEARS:
            for m, v in enumerate(fit_list[s]):
                t = yr - 0.5 + m / 12
                if t <= LEFT_XMAX + 1e-6:
                    rows.append({"t": t, "pwv": v, "fit": name})
    return pd.DataFrame(rows)


color_scale = alt.Scale(domain=POINT_SERIES, range=POINT_COLORS)
stroke_scale = alt.Scale(domain=FIT_SERIES, range=FIT_COLORS)
color_legend = alt.Legend(
    orient="none", legendX=-9, legendY=-35, direction="horizontal", title=None,
    symbolType="circle", symbolSize=10, labelOffset=14, columnPadding=16,
    labelFontSize=15, labelLimit=300,
)
stroke_legend = alt.Legend(
    orient="none", legendX=358, legendY=-41, direction="horizontal", title=None,
    symbolType="stroke", symbolSize=784, symbolStrokeWidth=2, labelOffset=3,
    columnPadding=6, labelFontSize=15, labelLimit=300,
)


def panel(label, batches, fit_list, ymax, yticks, width, xmax, is_left, is_bottom):
    pts = points_df(batches)
    fits = fits_df(fit_list)
    xscale = alt.Scale(domain=[X0, xmax], nice=False, zero=False)
    yscale = alt.Scale(domain=[0, ymax], nice=False, zero=True)
    xaxis = alt.Axis(
        values=X_TICKS, format="d", ticks=False, tickSize=0, grid=False,
        domain=not is_left, domainColor=BOX, labelPadding=5,
        title="Year" if is_bottom else "", titlePadding=2,
    )
    yaxis = alt.Axis(
        values=yticks, ticks=False, tickSize=0, grid=False,
        domain=not is_left, domainColor=BOX, labelPadding=5,
        title="PWV (mm)" if is_left else "", titlePadding=6,
    )
    layers = [
        alt.Chart(pts).mark_circle(size=14, opacity=1, clip=True).encode(
            x=alt.X("t:Q", scale=xscale, axis=xaxis),
            y=alt.Y("pwv:Q", scale=yscale, axis=yaxis),
            color=alt.Color("series:N", scale=color_scale, legend=color_legend),
        )
    ]
    for name in FIT_SERIES:
        layers.append(
            alt.Chart(fits).transform_filter(alt.datum.fit == name)
            .mark_line(strokeWidth=1.6, clip=True, interpolate="monotone")
            .encode(
                x="t:Q", y="pwv:Q",
                stroke=alt.Stroke("fit:N", scale=stroke_scale, legend=stroke_legend),
                order="t:Q",
            )
        )
    xt = pd.DataFrame({"v": [v for v in X_TICKS if v <= xmax]})
    yt = pd.DataFrame({"v": yticks})
    layers.append(alt.Chart(xt).mark_rule(color=BOX).encode(
        x="v:Q", y=alt.value(PLOT_H), y2=alt.value(PLOT_H - 4)))
    layers.append(alt.Chart(xt).mark_rule(color=BOX).encode(
        x="v:Q", y=alt.value(0), y2=alt.value(4)))
    layers.append(alt.Chart(yt).mark_rule(color=BOX).encode(
        y="v:Q", x=alt.value(0), x2=alt.value(4)))
    if is_left:
        layers.append(alt.Chart(yt).mark_rule(color=BOX).encode(
            y="v:Q", x=alt.value(width - 4), x2=alt.value(width)))
    else:
        layers.append(alt.Chart(pd.DataFrame({"v": [0]})).mark_rule(color=BOX).encode(
            y=alt.value(0), x=alt.value(0), x2=alt.value(width)))
    layers.append(
        alt.Chart(pd.DataFrame({"label": [label]})).mark_text(
            align="left", baseline="alphabetic", fontSize=21, font=FONT, color=TEXT
        ).encode(x=alt.value(12), y=alt.value(31), text="label:N")
    )
    view = alt.ViewBackground(stroke=BOX if is_left else "transparent", strokeWidth=1)
    return alt.layer(*layers).properties(width=width, height=PLOT_H, view=view)


pa = panel("(a) NC", [[nc_igra, nc_uncal, nc_cal], [nc_igra_b, nc_uncal_b, nc_cal_b]],
           [nc_fit_igra, nc_fit_uncal, nc_fit_cal], 70, nc_yticks, LEFT_W, LEFT_XMAX, True, False)
pb = panel("(b) SC", [[sc_igra, sc_uncal, sc_cal], [sc_igra_b, sc_uncal_b, sc_cal_b]],
           [sc_fit_igra, sc_fit_uncal, sc_fit_cal], 90, sc_yticks, RIGHT_W, RIGHT_XMAX, False, False)
pc = panel("(c) NWC", [[nwc_igra, nwc_uncal, nwc_cal], [nwc_igra_b, nwc_uncal_b, nwc_cal_b]],
           [nwc_fit_igra, nwc_fit_uncal, nwc_fit_cal], 40, nwc_yticks, LEFT_W, LEFT_XMAX, True, True)
pd_ = panel("(d) TP", [[tp_igra, tp_uncal, tp_cal], [tp_igra_b, tp_uncal_b, tp_cal_b]],
            [tp_fit_igra, tp_fit_uncal, tp_fit_cal], 30, tp_yticks, RIGHT_W, RIGHT_XMAX, False, True)

chart = (
    alt.concat(pa, pb, pc, pd_, columns=2, spacing={"row": 33, "column": 35}, bounds="flush")
    .resolve_scale(color="shared", stroke="shared")
    .properties(padding={"left": 15, "top": 6, "right": 0, "bottom": 0}, background="white")
    .configure_axis(
        labelFont=FONT, labelFontSize=16, labelColor=TEXT,
        titleFont=FONT, titleFontSize=21, titleFontWeight="normal", titleColor=TEXT,
    )
    .configure_legend(labelFont=FONT, labelColor=TEXT)
)

chart.save("out.html", embed_options={"renderer": "svg", "actions": False})
